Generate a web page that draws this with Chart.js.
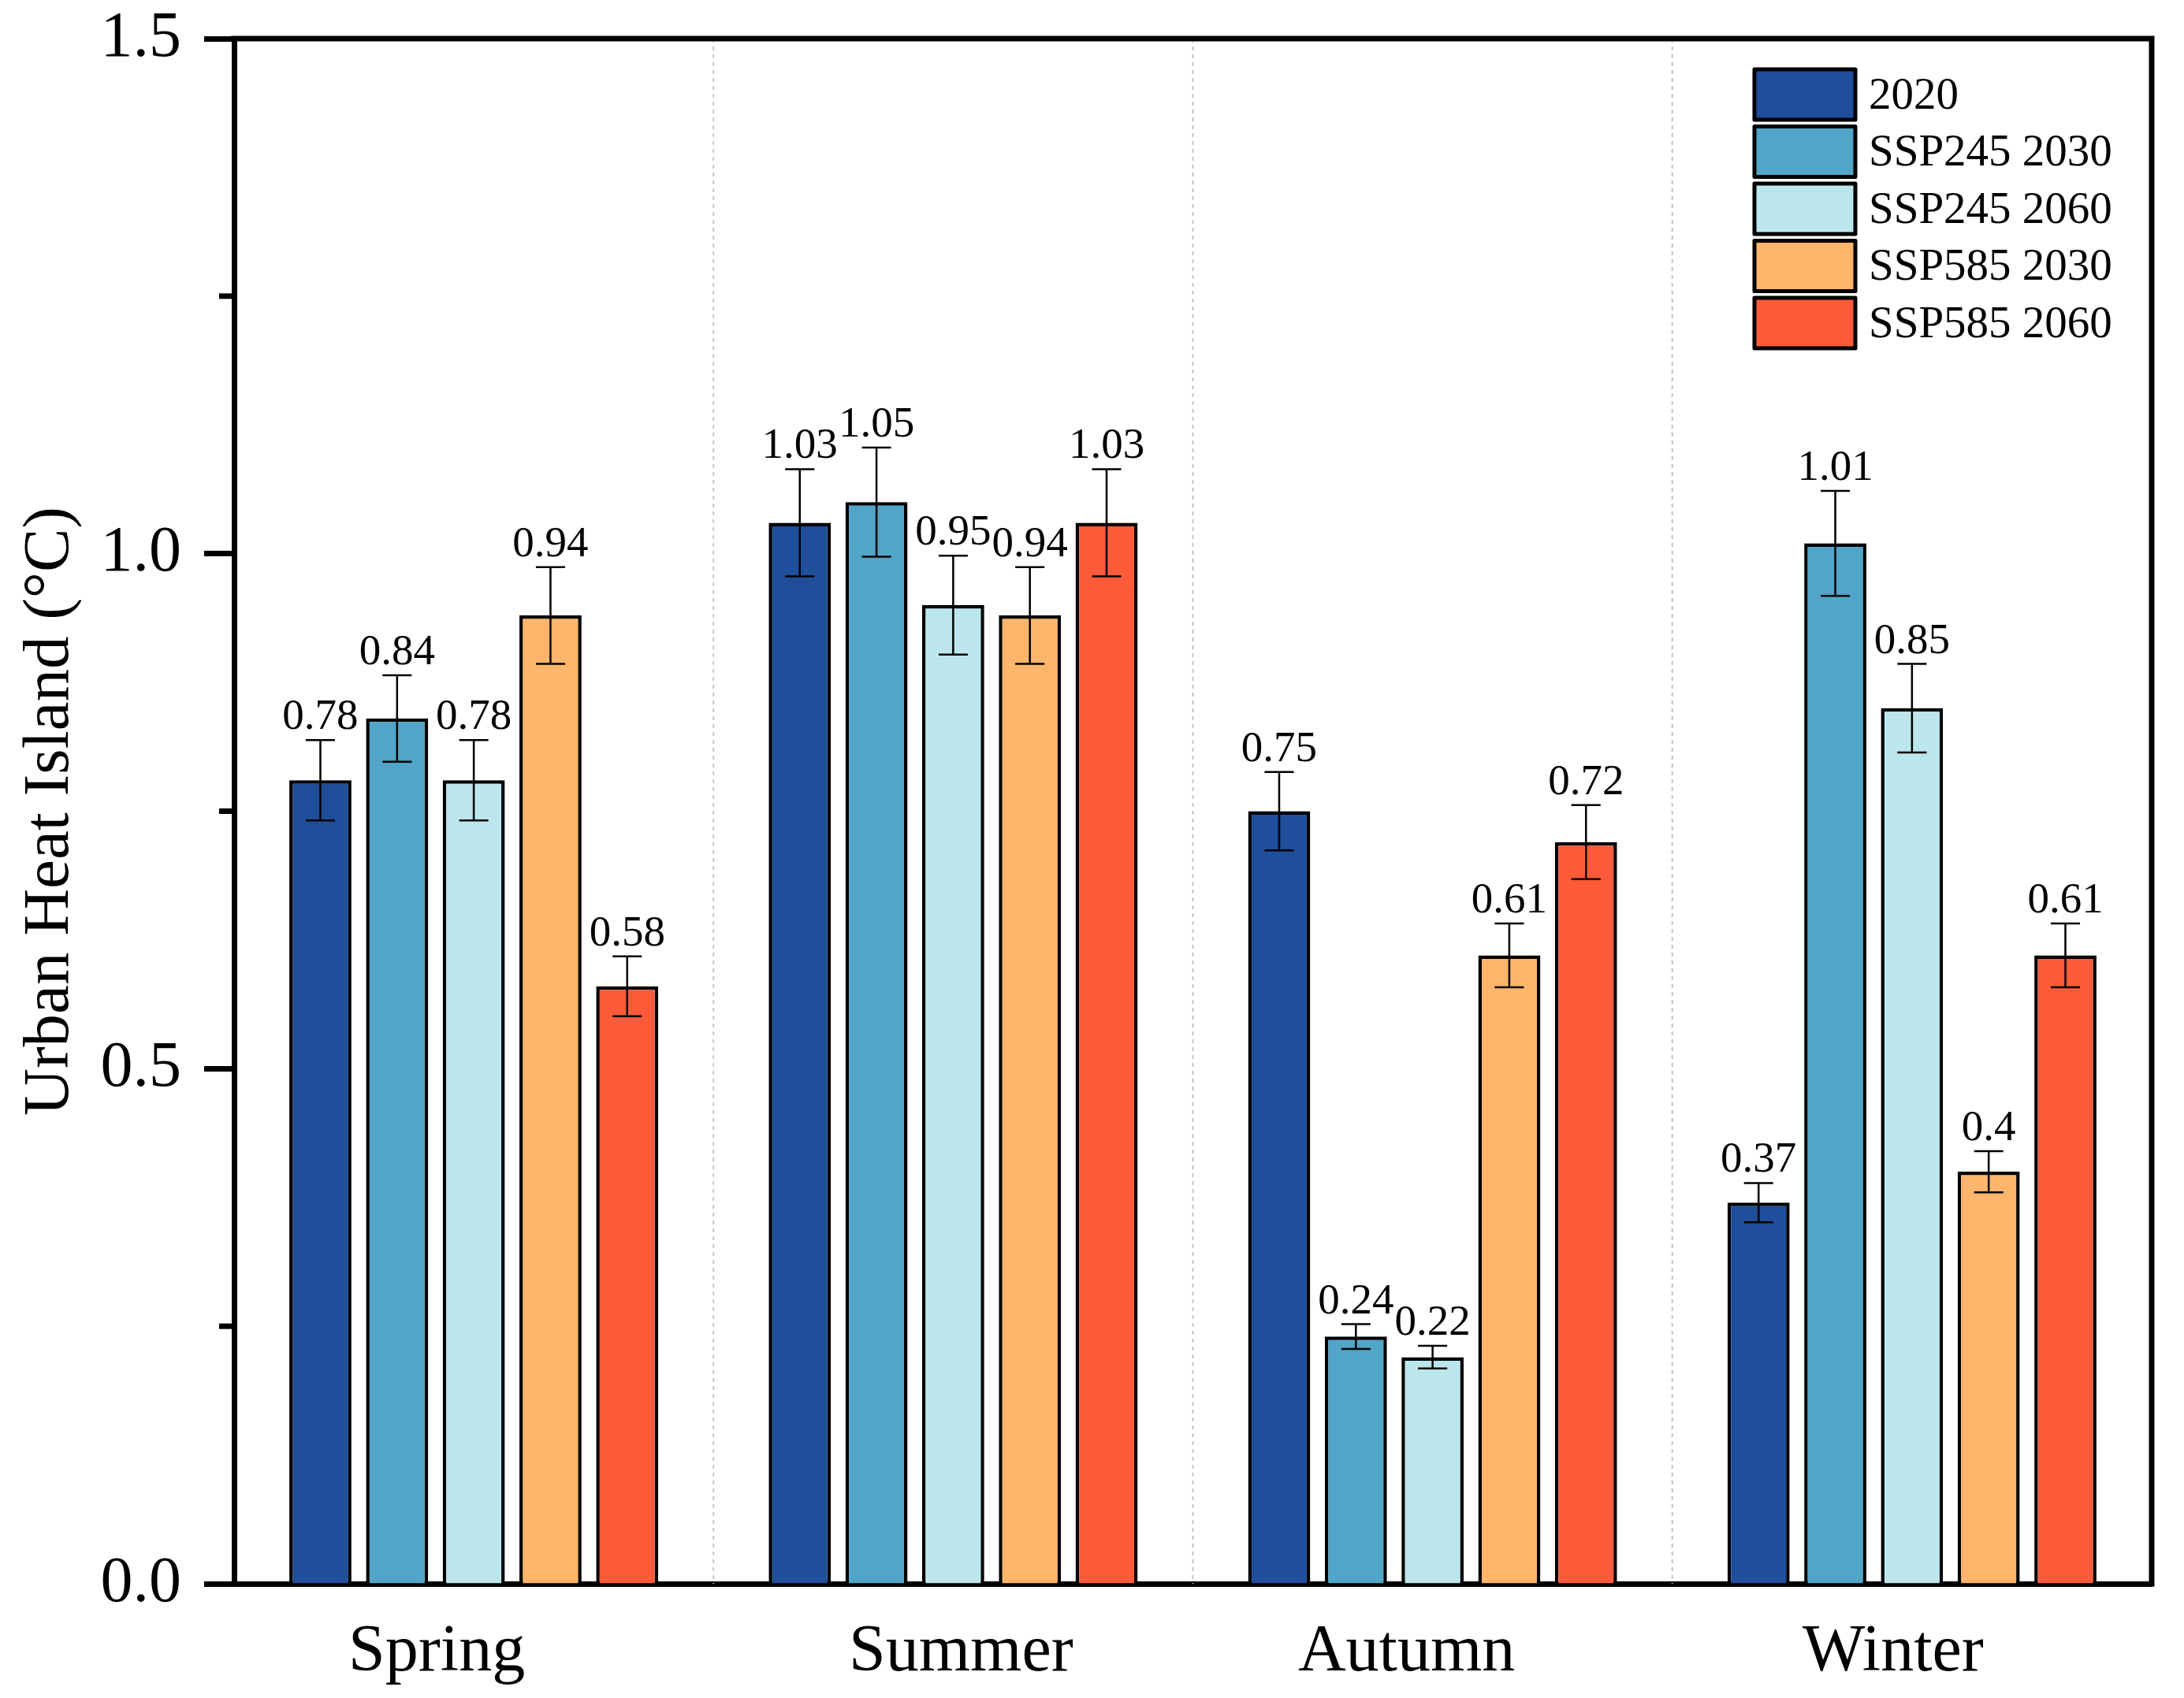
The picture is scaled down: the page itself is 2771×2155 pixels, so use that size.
<!DOCTYPE html>
<html>
<head>
<meta charset="utf-8">
<script src="https://cdn.jsdelivr.net/npm/chart.js@4.4.1/dist/chart.umd.min.js"></script>
<style>
  html, body { margin: 0; padding: 0; background: #fff; }
  canvas { display: block; }
</style>
</head>
<body>
<canvas id="uhi-chart" width="2771" height="2155"></canvas>
<script>
// categories and series
var seasons = ['Spring', 'Summer', 'Autumn', 'Winter'];
var scenarios = ['2020', 'SSP245 2030', 'SSP245 2060', 'SSP585 2030', 'SSP585 2060'];

var uhi2020 = [0.78, 1.03, 0.75, 0.37];
var uhiSsp245y2030 = [0.84, 1.05, 0.24, 1.01];
var uhiSsp245y2060 = [0.78, 0.95, 0.22, 0.85];
var uhiSsp585y2030 = [0.94, 0.94, 0.61, 0.4];
var uhiSsp585y2060 = [0.58, 1.03, 0.72, 0.61];

// half-length of the error bars
var err2020 = [0.039, 0.052, 0.038, 0.019];
var errSsp245y2030 = [0.042, 0.053, 0.012, 0.051];
var errSsp245y2060 = [0.039, 0.048, 0.011, 0.043];
var errSsp585y2030 = [0.047, 0.047, 0.031, 0.020];
var errSsp585y2060 = [0.029, 0.052, 0.036, 0.031];

var yTicks = [0, 0.5, 1.0, 1.5];
var yMinorTicks = [0.25, 0.75, 1.25];

var colors = ['#1F4E9A', '#50A5C8', '#BBE6EC', '#FFB56B', '#FF5A3A'];
var values = [uhi2020, uhiSsp245y2030, uhiSsp245y2060, uhiSsp585y2030, uhiSsp585y2060];
var errors = [err2020, errSsp245y2030, errSsp245y2060, errSsp585y2030, errSsp585y2060];

// the original figure has its season labels nudged a bit off-centre
var labelNudge = [-47, 10, -33, -24];

var serif = 'Liberation Serif';

// dotted separators between seasons
var separators = {
    id: 'separators',
    beforeDatasetsDraw: function (chart) {
        var ctx = chart.ctx, x = chart.scales.x, area = chart.chartArea;
        ctx.save();
        ctx.strokeStyle = '#c4c4c4';
        ctx.lineWidth = 2;
        ctx.setLineDash([5, 5]);
        for (var i = 1; i < seasons.length; i++) {
            var px = (x.getPixelForValue(i - 1) + x.getPixelForValue(i)) / 2;
            ctx.beginPath();
            ctx.moveTo(px, area.top);
            ctx.lineTo(px, area.bottom);
            ctx.stroke();
        }
        ctx.restore();
    }
};

// error bars + value labels
var errorBars = {
    id: 'errorBars',
    afterDatasetsDraw: function (chart) {
        var ctx = chart.ctx, y = chart.scales.y;
        ctx.save();
        ctx.strokeStyle = '#000';
        ctx.fillStyle = '#000';
        ctx.lineWidth = 2.5;
        ctx.font = '55px "' + serif + '"';
        ctx.textAlign = 'center';
        ctx.textBaseline = 'alphabetic';
        chart.data.datasets.forEach(function (ds, di) {
            chart.getDatasetMeta(di).data.forEach(function (bar, i) {
                var v = ds.data[i], e = ds.errors[i];
                var hi = y.getPixelForValue(v + e), lo = y.getPixelForValue(v - e);
                var half = bar.width * 0.235;
                ctx.beginPath();
                ctx.moveTo(bar.x, hi); ctx.lineTo(bar.x, lo);
                ctx.moveTo(bar.x - half, hi); ctx.lineTo(bar.x + half, hi);
                ctx.moveTo(bar.x - half, lo); ctx.lineTo(bar.x + half, lo);
                ctx.stroke();
                ctx.fillText(String(v), bar.x, hi - 14);
            });
        });
        ctx.restore();
    }
};

// top/right frame, minor ticks, season labels, legend
var frame = {
    id: 'frame',
    afterDraw: function (chart) {
        var ctx = chart.ctx, area = chart.chartArea, x = chart.scales.x, y = chart.scales.y;
        ctx.save();
        ctx.strokeStyle = '#000';
        ctx.lineWidth = 7;
        ctx.lineCap = 'square';
        ctx.beginPath();
        ctx.moveTo(area.left, area.top);
        ctx.lineTo(area.right, area.top);
        ctx.lineTo(area.right, area.bottom);
        ctx.stroke();

        ctx.lineCap = 'butt';
        yMinorTicks.forEach(function (v) {
            var py = y.getPixelForValue(v);
            ctx.beginPath();
            ctx.moveTo(area.left - 19, py);
            ctx.lineTo(area.left, py);
            ctx.stroke();
        });

        // season labels under the axis
        ctx.fillStyle = '#000';
        ctx.font = '84px "' + serif + '"';
        ctx.textAlign = 'center';
        ctx.textBaseline = 'alphabetic';
        seasons.forEach(function (s, i) {
            ctx.fillText(s, x.getPixelForValue(i) + labelNudge[i], area.bottom + 110);
        });

        // legend
        var sx = area.right - 504, tx = area.right - 359;
        ctx.font = '57px "' + serif + '"';
        ctx.textAlign = 'left';
        ctx.textBaseline = 'middle';
        ctx.lineWidth = 5;
        ctx.lineJoin = 'round';
        chart.data.datasets.forEach(function (ds, i) {
            var cy = area.top + 71 + 72.5 * i;
            ctx.fillStyle = ds.backgroundColor;
            ctx.fillRect(sx, cy - 32, 128, 64);
            ctx.strokeRect(sx, cy - 32, 128, 64);
            ctx.fillStyle = '#000';
            ctx.fillText(ds.label, tx, cy + 3);
        });
        ctx.restore();
    }
};

var ctx = document.getElementById('uhi-chart').getContext('2d');

var uhiChart = new Chart(ctx, {
    type: 'bar',
    data: {
        labels: seasons,
        datasets: scenarios.map(function (name, i) {
            return {
                label: name,
                data: values[i],
                errors: errors[i],
                backgroundColor: colors[i],
                borderColor: '#000',
                borderWidth: 4.5,
                categoryPercentage: 0.8,
                barPercentage: 0.81
            };
        })
    },
    options: {
        responsive: false,
        devicePixelRatio: 1,
        animation: false,
        layout: { padding: { top: 49, right: 41, left: 0, bottom: 0 } },
        plugins: {
            legend: { display: false },
            tooltip: { enabled: false }
        },
        scales: {
            x: {
                grid: { display: false },
                border: { display: true, color: '#000', width: 7 },
                ticks: { display: false },
                afterFit: function (s) {
                    s.height = 145;
                    s.paddingLeft = 0;
                    s.paddingRight = 0;
                }
            },
            y: {
                min: 0,
                max: 1.5,
                afterBuildTicks: function (s) {
                    s.ticks = yTicks.map(function (v) { return { value: v }; });
                },
                grid: {
                    drawOnChartArea: false,
                    drawTicks: true,
                    tickLength: 38,
                    tickWidth: 7,
                    tickColor: '#000'
                },
                border: { display: true, color: '#000', width: 7 },
                ticks: {
                    color: '#000',
                    font: { family: serif, size: 82 },
                    padding: 29,
                    callback: function (v) { return Number(v).toFixed(1); }
                },
                title: {
                    display: true,
                    text: 'Urban Heat Island (°C)',
                    color: '#000',
                    font: { family: serif, size: 83 },
                    padding: { top: 14, bottom: 0 }
                },
                afterFit: function (s) {
                    s.width = 297;
                    s.paddingTop = 0;
                    s.paddingBottom = 0;
                }
            }
        }
    },
    plugins: [separators, errorBars, frame]
});
</script>
</body>
</html>
